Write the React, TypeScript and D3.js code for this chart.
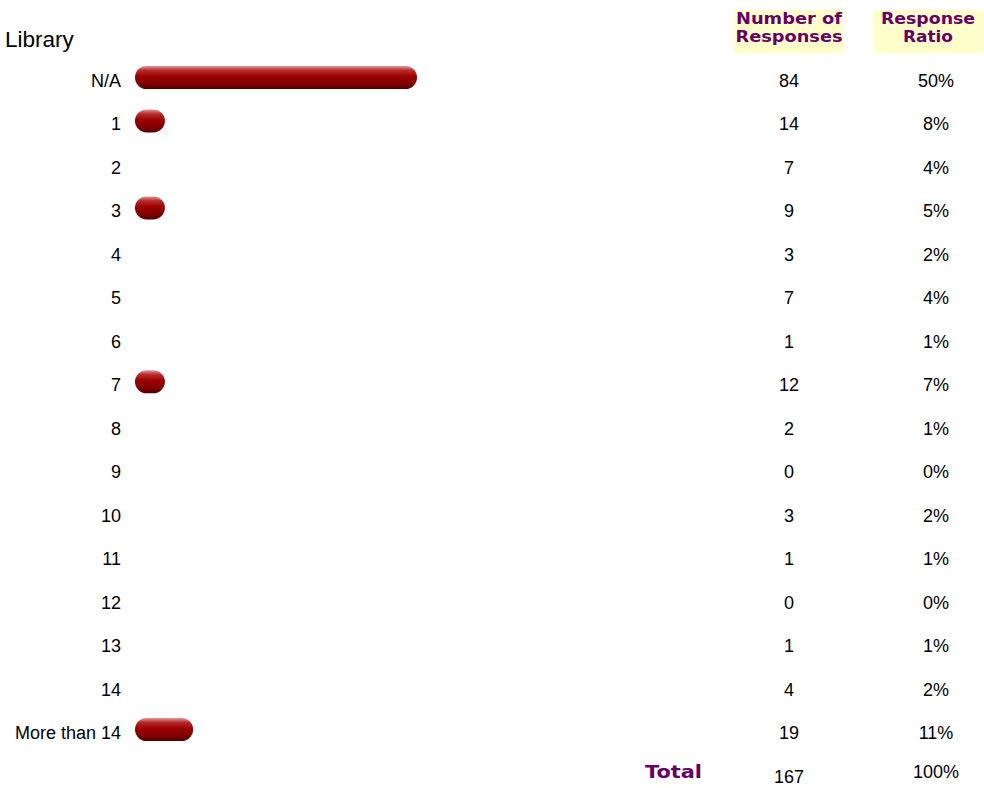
import { useEffect, useRef } from "react";
import * as d3 from "d3";

const WIDTH = 984;
const HEIGHT = 788;

const LABELS: string[] = ["N/A", "1", "2", "3", "4", "5", "6", "7", "8", "9", "10", "11", "12", "13", "14", "More than 14"];
const COUNTS: number[] = [84, 14, 7, 9, 3, 7, 1, 12, 2, 0, 3, 1, 0, 1, 4, 19];
const RATIOS: string[] = ["50%", "8%", "4%", "5%", "2%", "4%", "1%", "7%", "1%", "0%", "2%", "1%", "0%", "1%", "2%", "11%"];
// bar lengths as drawn in the picture (percent units), null where no bar shows
const BARS: (number | null)[] = [50, 5.3, null, 5.3, null, null, null, 5.3, null, null, null, null, null, null, null, 10.3];
const TOTAL = 167;
const TOTAL_RATIO = "100%";

const PURPLE = "#660066";

const App = () => {
  const svgRef = useRef<SVGSVGElement | null>(null);

  useEffect(() => {
    if (!svgRef.current) return;
    const svg = d3.select(svgRef.current);
    svg.selectAll("*").remove();
    svg.attr("width", WIDTH).attr("height", HEIGHT);

    // gradient for the pill bars
    const defs = svg.append("defs");
    const grad = defs
      .append("linearGradient")
      .attr("id", "barGrad")
      .attr("x1", 0)
      .attr("y1", 0)
      .attr("x2", 0)
      .attr("y2", 1);
    [
      [0, "#e09a9a"],
      [0.18, "#b83030"],
      [0.45, "#9c0000"],
      [0.8, "#7e0000"],
      [1, "#4c0000"],
    ].forEach(([o, c]) => grad.append("stop").attr("offset", o as number).attr("stop-color", c as string));

    // scales
    const scaleY = d3.scalePoint<string>().domain(LABELS).range([87, 739]);
    const scaleX = d3.scaleLinear().domain([0, 50]).range([135, 417]);

    const font = "'Liberation Sans', Arial, sans-serif";
    const fs = 18;

    svg
      .append("text")
      .attr("x", 5)
      .attr("y", 47)
      .attr("font-family", font)
      .attr("font-size", 22.5)
      .attr("fill", "#000")
      .text("Library");

    // header boxes
    const headers = [
      { x: 734, lines: ["Number of", "Responses"], lens: [106, 107] },
      { x: 873, lines: ["Response", "Ratio"], lens: [94, 50] },
    ];
    headers.forEach((h) => {
      svg.append("rect").attr("x", h.x).attr("y", 10).attr("width", 110).attr("height", 43).attr("fill", "#ffffcc");
      h.lines.forEach((l, i) => {
        svg
          .append("text")
          .attr("x", h.x + 55)
          .attr("y", 24 + i * 18)
          .attr("text-anchor", "middle")
          .attr("font-family", "'DejaVu Sans', sans-serif")
          .attr("font-weight", "bold")
          .attr("font-size", 16)
          .attr("textLength", h.lens[i])
          .attr("lengthAdjust", "spacingAndGlyphs")
          .attr("fill", PURPLE)
          .text(l);
      });
    });

    const rows = svg
      .append("g")
      .selectAll("g")
      .data(LABELS.map((l, i) => ({ label: l, count: COUNTS[i], ratio: RATIOS[i], bar: BARS[i] })))
      .join("g")
      .attr("transform", (d) => `translate(0, ${scaleY(d.label)})`);

    rows
      .append("text")
      .attr("x", 121)
      .attr("text-anchor", "end")
      .attr("font-family", font)
      .attr("font-size", fs)
      .text((d) => d.label);

    rows
      .filter((d) => d.bar !== null)
      .append("rect")
      .attr("x", scaleX(0))
      .attr("y", -21)
      .attr("width", (d) => scaleX(d.bar as number) - scaleX(0))
      .attr("height", 23)
      .attr("rx", 11.5)
      .attr("ry", 11.5)
      .attr("fill", "url(#barGrad)");

    rows
      .append("text")
      .attr("x", 789)
      .attr("text-anchor", "middle")
      .attr("font-family", font)
      .attr("font-size", fs)
      .text((d) => d.count);

    rows
      .append("text")
      .attr("x", 936)
      .attr("text-anchor", "middle")
      .attr("font-family", font)
      .attr("font-size", fs)
      .text((d) => d.ratio);

    // total row
    svg
      .append("text")
      .attr("x", 645)
      .attr("y", 778)
      .attr("font-family", "'DejaVu Sans', sans-serif")
      .attr("font-weight", "bold")
      .attr("font-size", 17)
      .attr("textLength", 57)
      .attr("lengthAdjust", "spacingAndGlyphs")
      .attr("fill", PURPLE)
      .text("Total");
    svg
      .append("text")
      .attr("x", 789)
      .attr("y", 783)
      .attr("text-anchor", "middle")
      .attr("font-family", font)
      .attr("font-size", fs)
      .text(TOTAL);
    svg
      .append("text")
      .attr("x", 936)
      .attr("y", 778)
      .attr("text-anchor", "middle")
      .attr("font-family", font)
      .attr("font-size", fs)
      .text(TOTAL_RATIO);
  }, []);

  return (
    <div style={{ position: "absolute", left: 0, top: 0 }}>
      <svg ref={svgRef} style={{ display: "block", background: "#fff" }} />
    </div>
  );
};

export default App;
